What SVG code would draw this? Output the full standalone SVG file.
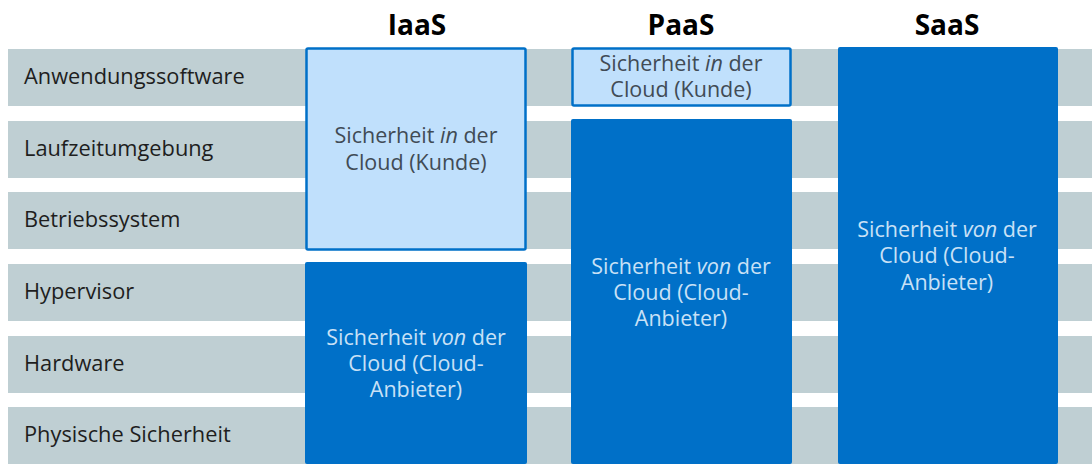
<svg xmlns="http://www.w3.org/2000/svg" width="1092" height="464" viewBox="0 0 1092 464">
<style>
.row{fill:#bfcfd3}
.lbl{font-family:"Open Sans","Liberation Sans",sans-serif;font-size:21.8px;fill:#1e1e1e}
.hdr{font-family:"Open Sans","Liberation Sans",sans-serif;font-size:28px;font-weight:bold;fill:#000;text-anchor:middle}
.light{fill:#c0e0fc;stroke:#0070c8;stroke-width:2.5}
.dark{fill:#0070c8}
.tl{font-family:"Open Sans","Liberation Sans",sans-serif;font-size:21.5px;fill:#414b55;text-anchor:middle}
.td{font-family:"Open Sans","Liberation Sans",sans-serif;font-size:21.5px;fill:#c9e1f6;text-anchor:middle}
</style>
<rect width="1092" height="464" fill="#fff"/>
<g id="rows">
<rect class="row" x="8" y="49" width="1084" height="57"/>
<rect class="row" x="8" y="121" width="1084" height="57"/>
<rect class="row" x="8" y="192" width="1084" height="57"/>
<rect class="row" x="8" y="264" width="1084" height="57"/>
<rect class="row" x="8" y="336" width="1084" height="57"/>
<rect class="row" x="8" y="407" width="1084" height="57"/>
</g>
<g id="labels">
<text class="lbl" x="24" y="84">Anwendungssoftware</text>
<text class="lbl" x="24" y="156">Laufzeitumgebung</text>
<text class="lbl" x="24" y="227">Betriebssystem</text>
<text class="lbl" x="24" y="299">Hypervisor</text>
<text class="lbl" x="24" y="371">Hardware</text>
<text class="lbl" x="24" y="442">Physische Sicherheit</text>
</g>
<g id="headers">
<text class="hdr" x="417" y="35">IaaS</text>
<text class="hdr" x="681" y="35">PaaS</text>
<text class="hdr" x="947" y="35">SaaS</text>
</g>
<g id="iaas-kunde">
<rect class="light" x="306.5" y="48.5" width="219" height="201" rx="1.5"/>
<text class="tl" x="416" y="143">Sicherheit <tspan font-style="italic">in</tspan> der</text>
<text class="tl" x="416" y="170">Cloud (Kunde)</text>
</g>
<g id="iaas-anbieter">
<rect class="dark" x="305" y="262" width="222" height="202" rx="2"/>
<text class="td" x="416" y="345">Sicherheit <tspan font-style="italic">von</tspan> der</text>
<text class="td" x="416" y="371">Cloud (Cloud-</text>
<text class="td" x="416" y="397">Anbieter)</text>
</g>
<g id="paas-kunde">
<rect class="light" x="572.5" y="48.5" width="218" height="57" rx="1.5"/>
<text class="tl" x="681" y="71">Sicherheit <tspan font-style="italic">in</tspan> der</text>
<text class="tl" x="681" y="97">Cloud (Kunde)</text>
</g>
<g id="paas-anbieter">
<rect class="dark" x="571" y="119" width="221" height="345" rx="2"/>
<text class="td" x="681" y="274">Sicherheit <tspan font-style="italic">von</tspan> der</text>
<text class="td" x="681" y="300">Cloud (Cloud-</text>
<text class="td" x="681" y="326">Anbieter)</text>
</g>
<g id="saas-anbieter">
<rect class="dark" x="838" y="47" width="220" height="417" rx="2"/>
<text class="td" x="947" y="237">Sicherheit <tspan font-style="italic">von</tspan> der</text>
<text class="td" x="947" y="263">Cloud (Cloud-</text>
<text class="td" x="947" y="290">Anbieter)</text>
</g>
<g id="connectors"/>
</svg>
